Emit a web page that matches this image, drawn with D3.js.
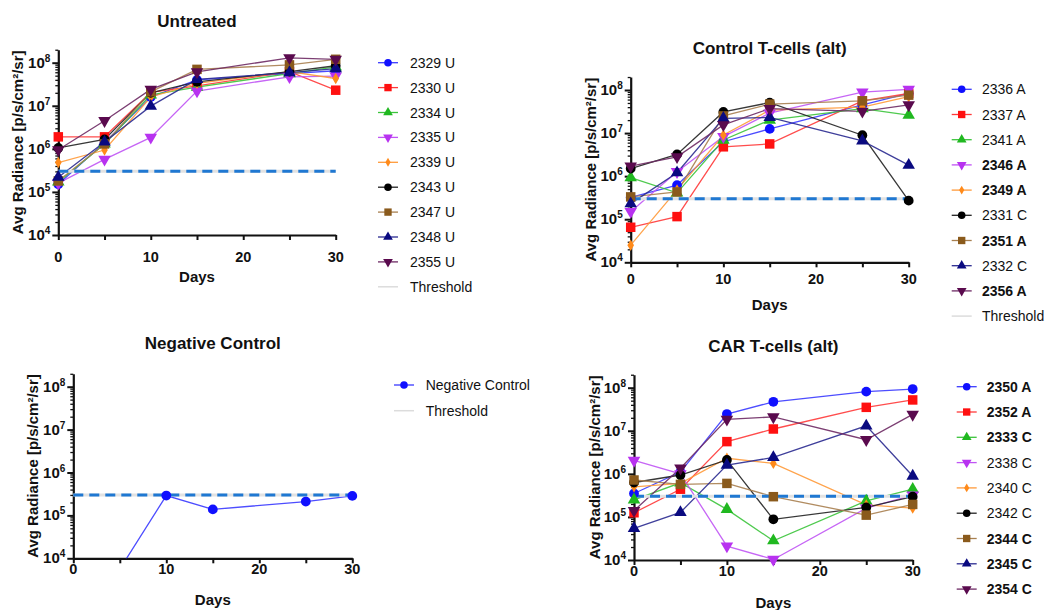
<!DOCTYPE html>
<html>
<head>
<meta charset="utf-8">
<script src="https://cdn.jsdelivr.net/npm/d3@7"></script>
<style>
  html, body { margin: 0; padding: 0; background: #fff; }
  svg { display: block; font-family: "Liberation Sans", Arial, sans-serif; }
</style>
</head>
<body>
<svg id="chart" width="1047" height="610"></svg>
<script>
// ---------------- DATA ----------------
const days = [0, 5, 10, 15, 25, 30];
const threshold = 3e5;
const xTickValues = [0, 5, 10, 15, 20, 25, 30];
const xTickLabels = ["0", "", "10", "", "20", "", "30"];
const yMajorTicks = [1e4, 1e5, 1e6, 1e7, 1e8];
const yTickExponents = ["4", "5", "6", "7", "8"];

const untreatedNames = ["2329 U", "2330 U", "2334 U", "2335 U", "2339 U", "2343 U", "2347 U", "2348 U", "2355 U"];
const untreatedBold = [false, false, false, false, false, false, false, false, false];
const untreatedValues = [
  [1.5e5, 1.4e6, 1.6e7, 4.0e7, 5.6e7, 6.5e7],
  [1.9e6, 1.9e6, 2.05e7, 2.9e7, 6.2e7, 2.3e7],
  [1.7e5, 1.3e6, 1.8e7, 2.7e7, 5.6e7, 8.0e7],
  [1.6e5, 5.7e5, 1.85e6, 2.2e7, 4.7e7, 4.9e7],
  [4.8e5, 9.4e5, 1.6e7, 3.3e7, 6.2e7, 4.3e7],
  [1.05e6, 1.65e6, 2.0e7, 3.6e7, 6.2e7, 8.5e7],
  [1.8e5, 1.3e6, 2.1e7, 7.0e7, 8.9e7, 1.2e8],
  [2.2e5, 1.45e6, 9.8e6, 4.1e7, 5.9e7, 7.3e7],
  [9.5e5, 4.5e6, 2.4e7, 6.1e7, 1.3e8, 1.2e8]
];

const controlNames = ["2336 A", "2337 A", "2341 A", "2346 A", "2349 A", "2331 C", "2351 A", "2332 C", "2356 A"];
const controlBold = [false, false, false, true, true, false, true, false, true];
const controlValues = [
  [3.2e5, 6.2e5, 6.3e6, 1.25e7, 4.5e7, 8.3e7],
  [6.5e4, 1.15e5, 4.8e6, 5.6e6, 5.6e7, 8.3e7],
  [9.2e5, 4.1e5, 6.9e6, 2.0e7, 3.7e7, 2.6e7],
  [1.5e5, 1.27e6, 8.3e6, 2.9e7, 8.9e7, 1.03e8],
  [2.5e4, 4.8e5, 9.0e6, 3.4e7, 4.0e7, 7.0e7],
  [1.5e6, 3.2e6, 3.1e7, 5.1e7, 8.9e6, 2.7e5],
  [3.3e5, 4.3e5, 2.5e7, 4.7e7, 5.6e7, 7.6e7],
  [2.3e5, 1.2e6, 2.2e7, 2.3e7, 6.6e6, 1.8e6],
  [1.7e6, 2.8e6, 1.55e7, 3.7e7, 3.2e7, 4.5e7]
];

const negDays = [5, 10, 15, 25, 30];
const negNames = ["Negative Control"];
const negBold = [false];
const negValues = [
  [5.6e3, 2.9e5, 1.38e5, 2.1e5, 2.85e5]
];

const carNames = ["2350 A", "2352 A", "2333 C", "2338 C", "2340 C", "2342 C", "2344 C", "2345 C", "2354 C"];
const carBold = [true, true, true, false, false, false, true, true, true];
const carValues = [
  [3.5e5, 1.1e6, 2.45e7, 4.7e7, 8.1e7, 9.3e7],
  [1.25e5, 4.4e5, 5.6e6, 1.1e7, 3.5e7, 5.2e7],
  [2.5e5, 6.2e5, 1.5e5, 2.8e4, 2.35e5, 4.4e5],
  [2.05e6, 1.0e6, 2.1e4, 1.03e4, 1.6e5, 3.2e5],
  [5.0e5, 6.0e5, 2.3e6, 1.75e6, 1.9e5, 1.6e5],
  [6.3e5, 9.4e5, 2.1e6, 8.8e4, 1.66e5, 2.95e5],
  [7.2e5, 5.7e5, 6.0e5, 2.95e5, 1.1e5, 1.95e5],
  [5.4e4, 1.27e5, 1.6e6, 2.4e6, 1.3e7, 8.9e5],
  [1.4e5, 1.35e6, 1.85e7, 2.1e7, 6.2e6, 2.4e7]
];

// ---------------- STYLES ----------------
const markerColors = ["#1010ff", "#ff1010", "#20b820", "#b832f0", "#ff8a1a", "#000000", "#8a5a1c", "#0a0a80", "#5a0a4e"];
const lineColors   = ["#3a3aff", "#ff3a3a", "#3cc43c", "#c055f4", "#ff9a3a", "#222222", "#a88050", "#2a2a90", "#6e2a64"];
const markerShapes = ["circle", "square", "triangle", "triangleDown", "diamond", "circle", "square", "triangle", "triangleDown"];

const panels = [
  { title: "Untreated", names: untreatedNames, bold: untreatedBold, values: untreatedValues, xs: days,
    x0: 58.3, x1: 335.7, y4: 235, y8: 62.7, titleY: 21, tickDy: 22, daysDy: 42, ylabX: 18,
    legX: 378, legTextX: 410, legY: 62.7, legStep: 24.9 },
  { title: "Control T-cells (alt)", names: controlNames, bold: controlBold, values: controlValues, xs: days,
    x0: 630.7, x1: 908.7, y4: 262.3, y8: 90, titleY: 48, tickDy: 17, daysDy: 43, ylabX: 590.7,
    legX: 951.7, legTextX: 982, legY: 89.3, legStep: 25.2 },
  { title: "Negative Control", names: negNames, bold: negBold, values: negValues, xs: negDays,
    x0: 73.3, x1: 352.3, y4: 558.3, y8: 386.7, titleY: 343.3, tickDy: 11, daysDy: 42, ylabX: 33.3,
    legX: 394, legTextX: 425.7, legY: 385, legStep: 25.7 },
  { title: "CAR T-cells (alt)", names: carNames, bold: carBold, values: carValues, xs: days,
    x0: 634, x1: 912.7, y4: 560, y8: 387.7, titleY: 346, tickDy: 11, daysDy: 43, ylabX: 595,
    legX: 956.7, legTextX: 986.7, legY: 386.7, legStep: 25.3, noThresholdLegend: true }
];

const svg = d3.select("#chart");

function symbolPath(shape, size) {
  switch (shape) {
    case "circle": return d3.symbol().type(d3.symbolCircle).size(size)();
    case "square": return d3.symbol().type(d3.symbolSquare).size(size)();
    case "triangle":
    case "triangleDown": return d3.symbol().type(d3.symbolTriangle).size(size)();
    case "diamond": return d3.symbol().type(d3.symbolDiamond).size(size)();
  }
}
function symbolSize(shape) {
  return { circle: 75, square: 90, triangle: 68, triangleDown: 68, diamond: 38 }[shape];
}

panels.forEach((p, pi) => {
  const decade = (p.y4 - p.y8) / 4;
  const yTopVal = 2e8;
  const yTop = p.y8 - Math.log10(2) * decade;
  const y = d3.scaleLog().domain([1e4, yTopVal]).range([p.y4, yTop]);
  const x = d3.scaleLinear().domain([0, 30]).range([p.x0, p.x1]);

  const g = svg.append("g");

  const clipId = "clip" + pi;
  svg.append("clipPath").attr("id", clipId).append("rect")
    .attr("x", p.x0 - 10).attr("y", yTop - 10)
    .attr("width", p.x1 - p.x0 + 20).attr("height", p.y4 - yTop + 10);

  // title
  g.append("text").attr("x", (p.x0 + p.x1) / 2).attr("y", p.titleY + 6)
    .attr("text-anchor", "middle").attr("font-size", 17).attr("font-weight", "bold")
    .attr("fill", "#111").text(p.title);

  // Y minor ticks
  const minor = [];
  for (let e = 4; e <= 8; e++) for (let m = 2; m <= 9; m++) {
    const v = m * Math.pow(10, e);
    if (v <= yTopVal) minor.push(v);
  }
  const yMinorAxis = d3.axisLeft(y).tickValues(minor).tickSize(3).tickSizeOuter(0).tickFormat("");
  const ym = g.append("g").attr("transform", `translate(${p.x0},0)`).call(yMinorAxis);
  ym.select(".domain").remove();
  ym.selectAll("line").attr("stroke", "#111").attr("stroke-width", 1.3);

  const yMajorAxis = d3.axisLeft(y).tickValues(yMajorTicks).tickSize(6).tickSizeOuter(0).tickFormat("");
  const yM = g.append("g").attr("transform", `translate(${p.x0},0)`).call(yMajorAxis);
  yM.select(".domain").attr("stroke", "#111").attr("stroke-width", 2.2);
  yM.selectAll("line").attr("stroke", "#111").attr("stroke-width", 2);

  yMajorTicks.forEach((v, i) => {
    const t = g.append("text").attr("x", p.x0 - 8).attr("y", y(v) + 5)
      .attr("text-anchor", "end").attr("font-size", 15).attr("font-weight", "bold").attr("fill", "#111");
    t.append("tspan").text("10");
    t.append("tspan").attr("dy", -6).attr("font-size", 10).text(yTickExponents[i]);
  });

  // X axis
  const xAxis = d3.axisBottom(x).tickValues(xTickValues).tickSize(5).tickSizeOuter(0).tickFormat("");
  const xa = g.append("g").attr("transform", `translate(0,${p.y4})`).call(xAxis);
  xa.select(".domain").attr("stroke", "#111").attr("stroke-width", 2.2);
  xa.selectAll("line").attr("stroke", "#111").attr("stroke-width", 2);
  xTickValues.forEach((v, i) => {
    if (!xTickLabels[i]) return;
    g.append("text").attr("x", x(v)).attr("y", p.y4 + p.tickDy + 5)
      .attr("text-anchor", "middle").attr("font-size", 14.5).attr("font-weight", "bold")
      .attr("fill", "#111").text(xTickLabels[i]);
  });

  g.append("text").attr("x", (p.x0 + p.x1) / 2).attr("y", p.y4 + p.daysDy + 5)
    .attr("text-anchor", "middle").attr("font-size", 15).attr("font-weight", "bold")
    .attr("fill", "#111").text("Days");
  g.append("text")
    .attr("transform", `translate(${p.ylabX + 5},${(p.y4 + yTop) / 2}) rotate(-90)`)
    .attr("text-anchor", "middle").attr("font-size", 15).attr("font-weight", "bold")
    .attr("fill", "#111").text("Avg Radiance [p/s/cm²/sr]");

  // lines
  const line = d3.line().x(d => x(d[0])).y(d => y(d[1]));
  const lineG = g.append("g").attr("clip-path", `url(#${clipId})`);
  p.values.forEach((vals, si) => {
    const pts = p.xs.map((d, k) => [d, vals[k]]);
    lineG.append("path").attr("d", line(pts)).attr("fill", "none")
      .attr("stroke", lineColors[si]).attr("stroke-width", 1.3).attr("stroke-opacity", 0.9);
  });

  // threshold
  g.append("line").attr("x1", p.x0).attr("x2", p.x1).attr("y1", y(threshold)).attr("y2", y(threshold))
    .attr("stroke", "#e2e2e2").attr("stroke-width", 3);
  g.append("line").attr("x1", p.x0).attr("x2", p.x1).attr("y1", y(threshold)).attr("y2", y(threshold))
    .attr("stroke", "#1f78d2").attr("stroke-width", 3).attr("stroke-dasharray", "10,6");

  // markers
  p.values.forEach((vals, si) => {
    const shape = markerShapes[si];
    p.xs.forEach((d, k) => {
      if (vals[k] < 1e4) return;
      const rot = shape === "triangleDown" ? " rotate(180)" : "";
      g.append("path").attr("d", symbolPath(shape, symbolSize(shape)))
        .attr("transform", `translate(${x(d)},${y(vals[k])})${rot}`)
        .attr("fill", markerColors[si]);
    });
  });

  // legend
  const lg = g.append("g");
  p.names.forEach((name, si) => {
    const ly = p.legY + si * p.legStep;
    const shape = markerShapes[si];
    lg.append("line").attr("x1", p.legX).attr("x2", p.legX + 20).attr("y1", ly).attr("y2", ly)
      .attr("stroke", lineColors[si]).attr("stroke-width", 1.3);
    const rot = shape === "triangleDown" ? " rotate(180)" : "";
    lg.append("path").attr("d", symbolPath(shape, symbolSize(shape) * 0.6))
      .attr("transform", `translate(${p.legX + 10},${ly})${rot}`)
      .attr("fill", markerColors[si]);
    lg.append("text").attr("x", p.legTextX).attr("y", ly + 5)
      .attr("font-size", 14).attr("font-weight", p.bold[si] ? "bold" : "normal")
      .attr("fill", "#111").text(name);
  });
  if (!p.noThresholdLegend) {
    const ly = p.legY + p.names.length * p.legStep;
    lg.append("line").attr("x1", p.legX).attr("x2", p.legX + 20).attr("y1", ly).attr("y2", ly)
      .attr("stroke", "#dcdcdc").attr("stroke-width", 1.5);
    lg.append("text").attr("x", p.legTextX).attr("y", ly + 5)
      .attr("font-size", 14).attr("fill", "#111").text("Threshold");
  }
});
</script>
</body>
</html>
